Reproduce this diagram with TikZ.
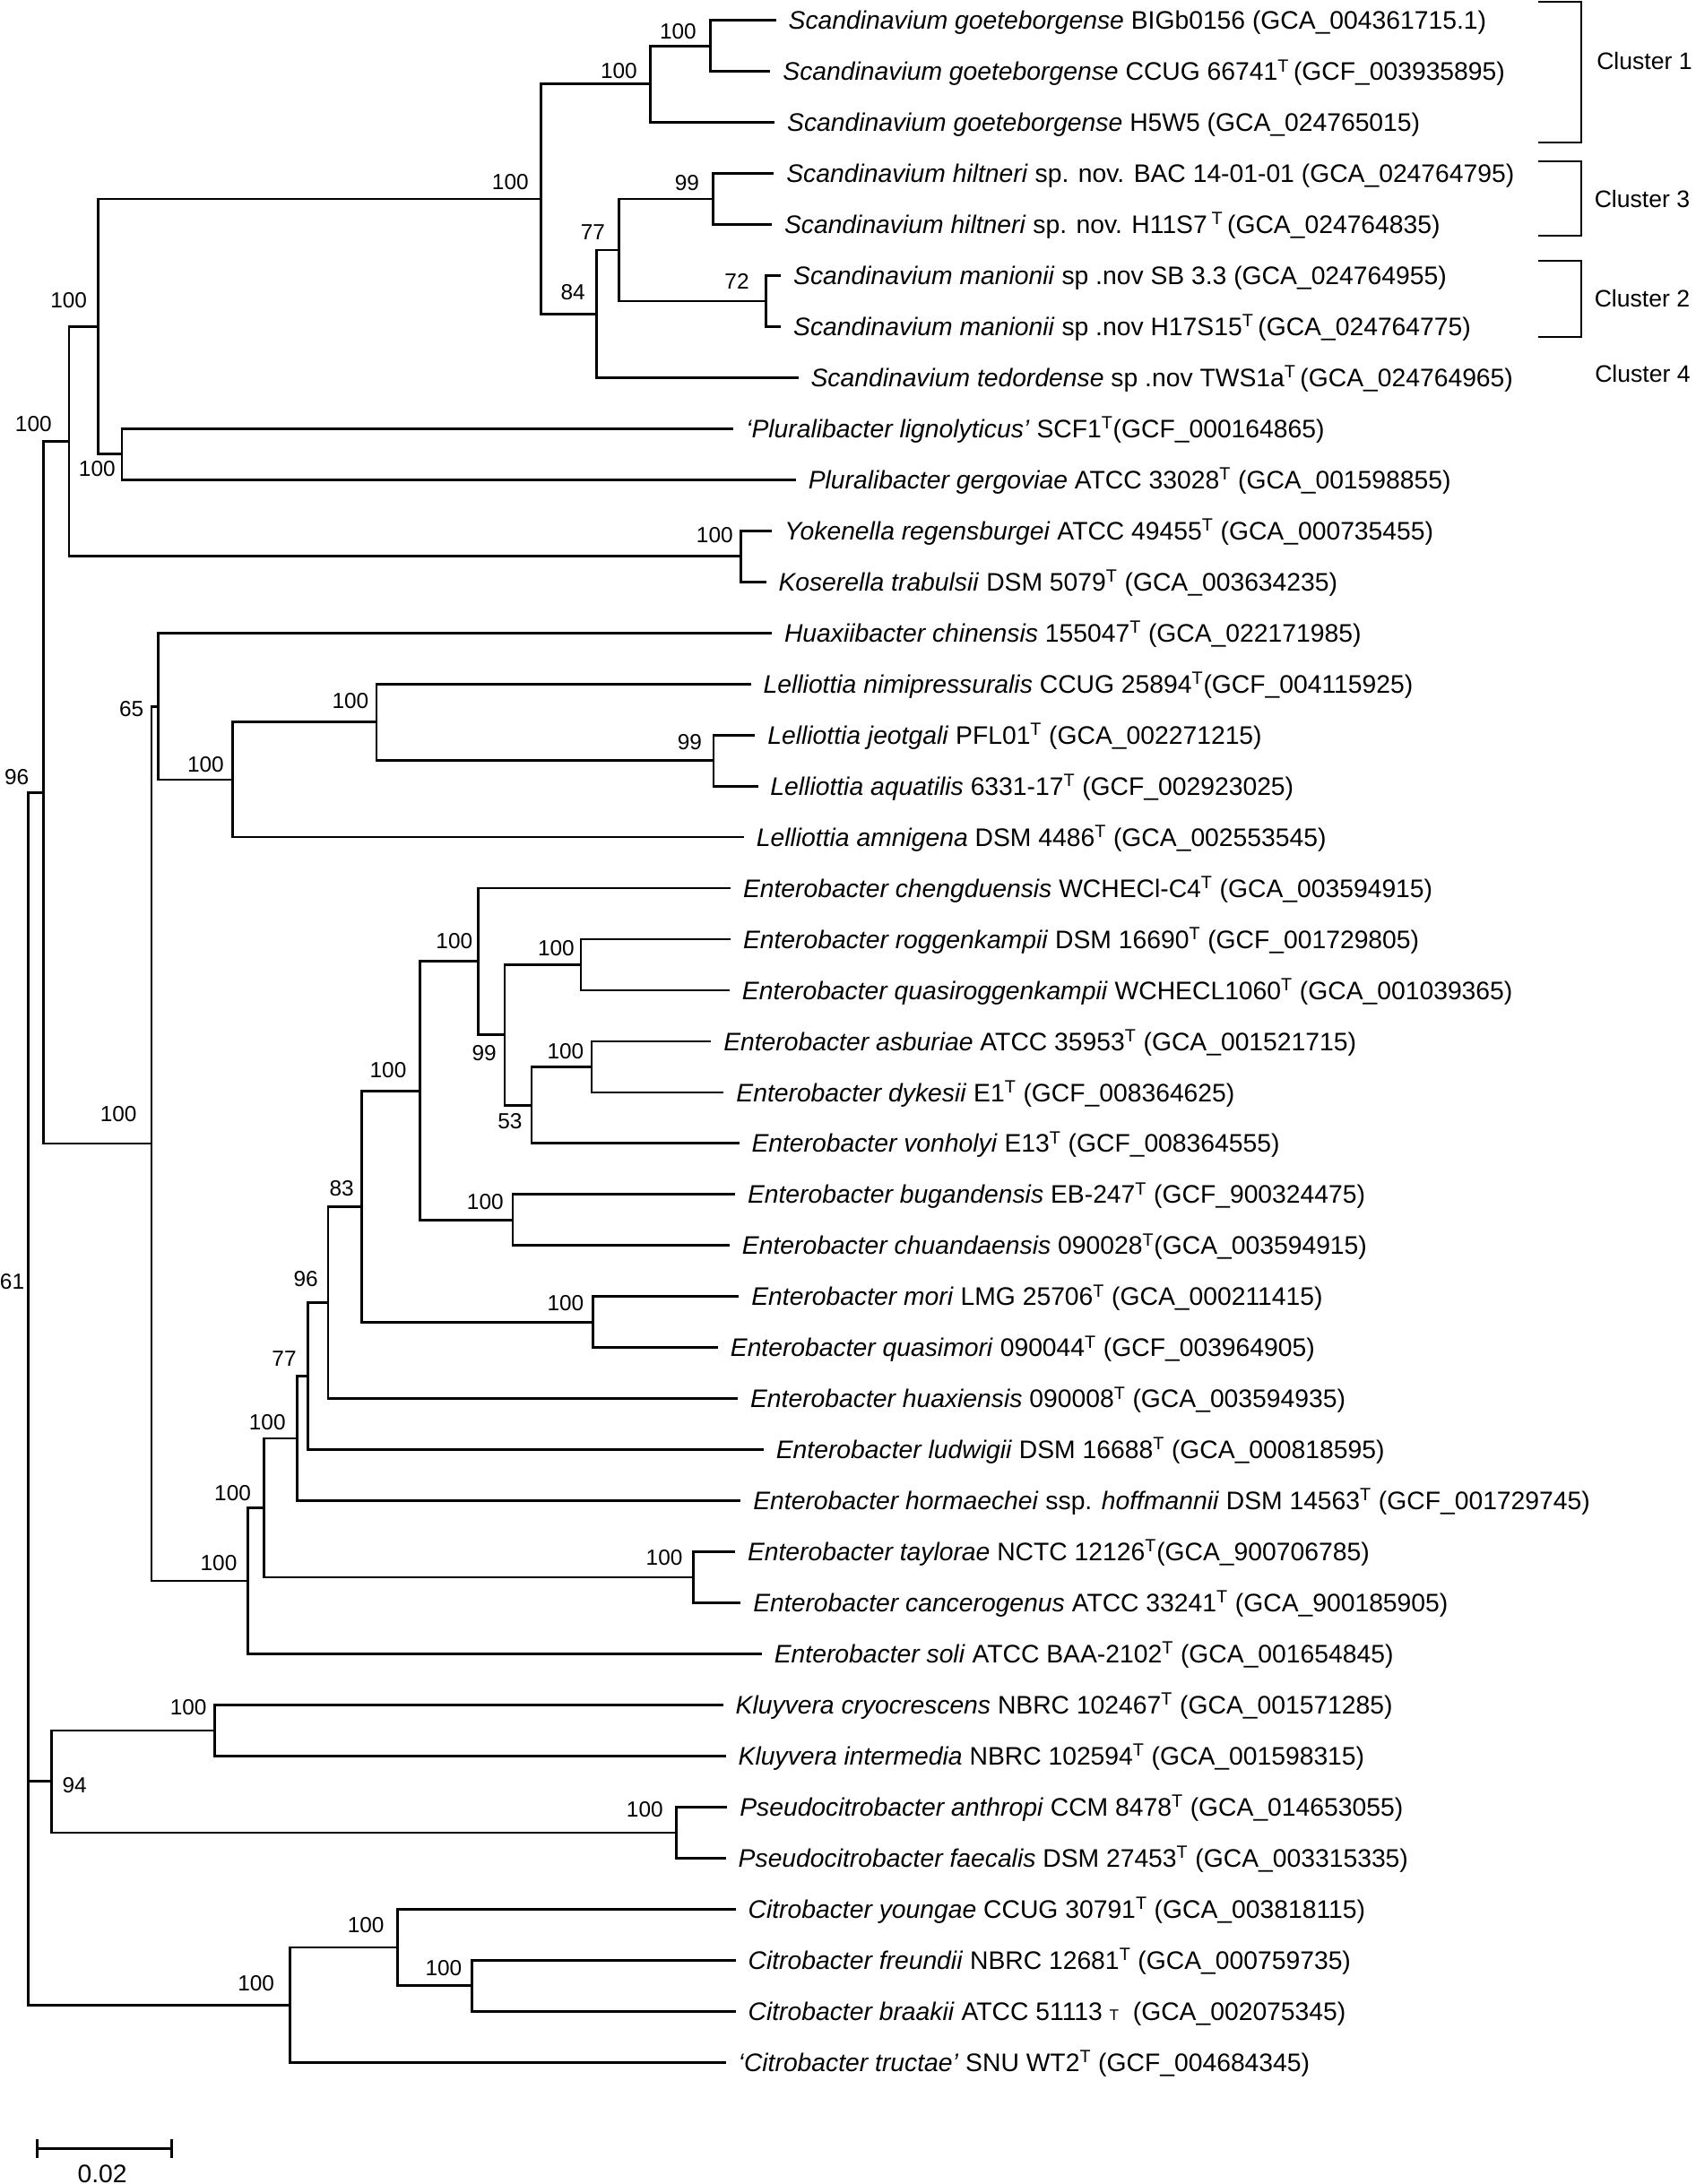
\documentclass[tikz,border=0pt]{standalone}
\usepackage{fontspec}
\setmainfont{Liberation Sans}
\usepackage{tikz}
\newcommand{\tsup}{\textsuperscript{T}}

\begin{document}
\begin{tikzpicture}[x=1pt,y=-1pt,line width=1.8pt,
	leaf/.style={anchor=west,inner sep=0pt,outer xsep=9pt,text height=13pt,text depth=0pt,font=\fontsize{18.2}{21}\selectfont},
	boot/.style={inner sep=0pt,font=\fontsize{15.7}{18}\selectfont},
	clus/.style={line width=1.2pt},
	clab/.style={inner sep=0pt,font=\fontsize{17.1}{20}\selectfont}]
	\useasboundingbox (0,0) rectangle (1217,1568);
	
	\node[leaf] (l1) at (557,14.6) {\textit{Scandinavium goeteborgense} BIGb0156 (GCA\_004361715.1)};
	\node[leaf] (l2) at (553,51.25) {\textit{Scandinavium goeteborgense} CCUG 66741\tsup\,(GCF\_003935895)};
	\node[leaf] (l3) at (556,87.9) {\textit{Scandinavium goeteborgense} H5W5 (GCA\_024765015)};
	\node[leaf] (l4) at (555.5,124.55) {\textit{Scandinavium hiltneri} sp. nov. BAC 14-01-01 (GCA\_024764795)};
	\node[leaf] (l5) at (554,161.2) {\textit{Scandinavium hiltneri} sp. nov. H11S7\,\tsup\,(GCA\_024764835)};
	\node[leaf] (l6) at (560.5,197.85) {\textit{Scandinavium manionii} sp .nov SB 3.3 (GCA\_024764955)};
	\node[leaf] (l7) at (560.5,234.5) {\textit{Scandinavium manionii} sp .nov H17S15\tsup\,(GCA\_024764775)};
	\node[leaf] (l8) at (573,271.15) {\textit{Scandinavium tedordense} sp .nov TWS1a\tsup\,(GCA\_024764965)};
	\node[leaf] (l9) at (526.5,307.8) {\textit{‘Pluralibacter lignolyticus’} SCF1\tsup(GCF\_000164865)};
	\node[leaf] (l10) at (571.2,344.45) {\textit{Pluralibacter gergoviae} ATCC 33028\tsup{} (GCA\_001598855)};
	\node[leaf] (l11) at (554.2,381.1) {\textit{Yokenella regensburgei} ATCC 49455\tsup{} (GCA\_000735455)};
	\node[leaf] (l12) at (549.8,417.75) {\textit{Koserella trabulsii} DSM 5079\tsup{} (GCA\_003634235)};
	\node[leaf] (l13) at (554,454.4) {\textit{Huaxiibacter chinensis} 155047\tsup{} (GCA\_022171985)};
	\node[leaf] (l14) at (539,491.05) {\textit{Lelliottia nimipressuralis} CCUG 25894\tsup(GCF\_004115925)};
	\node[leaf] (l15) at (542,527.7) {\textit{Lelliottia jeotgali} PFL01\tsup{} (GCA\_002271215)};
	\node[leaf] (l16) at (544,564.35) {\textit{Lelliottia aquatilis} 6331-17\tsup{} (GCF\_002923025)};
	\node[leaf] (l17) at (534,601) {\textit{Lelliottia amnigena} DSM 4486\tsup{} (GCA\_002553545)};
	\node[leaf] (l18) at (524.4,637.65) {\textit{Enterobacter chengduensis} WCHECl-C4\tsup{} (GCA\_003594915)};
	\node[leaf] (l19) at (524.4,674.3) {\textit{Enterobacter roggenkampii} DSM 16690\tsup{} (GCF\_001729805)};
	\node[leaf] (l20) at (523.7,710.95) {\textit{Enterobacter quasiroggenkampii} WCHECL1060\tsup{} (GCA\_001039365)};
	\node[leaf] (l21) at (510.4,747.6) {\textit{Enterobacter asburiae} ATCC 35953\tsup{} (GCA\_001521715)};
	\node[leaf] (l22) at (519.5,784.25) {\textit{Enterobacter dykesii} E1\tsup{} (GCF\_008364625)};
	\node[leaf] (l23) at (530.5,820.9) {\textit{Enterobacter vonholyi} E13\tsup{} (GCF\_008364555)};
	\node[leaf] (l24) at (527.6,857.55) {\textit{Enterobacter bugandensis} EB-247\tsup{} (GCF\_900324475)};
	\node[leaf] (l25) at (523.7,894.2) {\textit{Enterobacter chuandaensis} 090028\tsup(GCA\_003594915)};
	\node[leaf] (l26) at (530.4,930.85) {\textit{Enterobacter mori} LMG 25706\tsup{} (GCA\_000211415)};
	\node[leaf] (l27) at (515.3,967.5) {\textit{Enterobacter quasimori} 090044\tsup{} (GCF\_003964905)};
	\node[leaf] (l28) at (529.6,1004.15) {\textit{Enterobacter huaxiensis} 090008\tsup{} (GCA\_003594935)};
	\node[leaf] (l29) at (548.1,1040.8) {\textit{Enterobacter ludwigii} DSM 16688\tsup{} (GCA\_000818595)};
	\node[leaf] (l30) at (531.7,1077.45) {\textit{Enterobacter hormaechei} ssp. \textit{hoffmannii} DSM 14563\tsup{} (GCF\_001729745)};
	\node[leaf] (l31) at (527.6,1114.1) {\textit{Enterobacter taylorae} NCTC 12126\tsup(GCA\_900706785)};
	\node[leaf] (l32) at (531.7,1150.75) {\textit{Enterobacter cancerogenus} ATCC 33241\tsup{} (GCA\_900185905)};
	\node[leaf] (l33) at (546.8,1187.4) {\textit{Enterobacter soli} ATCC BAA-2102\tsup{} (GCA\_001654845)};
	\node[leaf] (l34) at (519,1224.05) {\textit{Kluyvera cryocrescens} NBRC 102467\tsup{} (GCA\_001571285)};
	\node[leaf] (l35) at (521,1260.7) {\textit{Kluyvera intermedia} NBRC 102594\tsup{} (GCA\_001598315)};
	\node[leaf] (l36) at (522,1297.35) {\textit{Pseudocitrobacter anthropi} CCM 8478\tsup{} (GCA\_014653055)};
	\node[leaf] (l37) at (521,1334) {\textit{Pseudocitrobacter faecalis} DSM 27453\tsup{} (GCA\_003315335)};
	\node[leaf] (l38) at (528,1370.65) {\textit{Citrobacter youngae} CCUG 30791\tsup{} (GCA\_003818115)};
	\node[leaf] (l39) at (528,1407.3) {\textit{Citrobacter freundii} NBRC 12681\tsup{} (GCA\_000759735)};
	\node[leaf] (l40) at (528,1443.95) {\textit{Citrobacter braakii} ATCC 51113 {\fontsize{11}{11}\selectfont T}\ \ (GCA\_002075345)};
	\node[leaf] (l41) at (521,1480.6) {\textit{‘Citrobacter tructae’} SNU WT2\tsup{} (GCF\_004684345)};
	
	\coordinate (s1) at (509.8,32.9);
	\coordinate (s2) at (466.9,60.4);
	\coordinate (s3) at (511.8,142.9);
	\coordinate (s4) at (549.9,216.2);
	\coordinate (s5) at (444.2,179.5);
	\coordinate (s6) at (428.1,225.3);
	\coordinate (s7) at (388.1,142.9);
	\coordinate (p1) at (87.5,326.1);
	\coordinate (a1) at (70.3,234.5);
	\coordinate (y1) at (531.8,399.4);
	\coordinate (a2) at (49.5,317);
	\coordinate (j1) at (512.2,546);
	\coordinate (j2) at (270.2,518.5);
	\coordinate (j3) at (166.8,559.8);
	\coordinate (j4) at (113.7,507.1);
	\coordinate (e1) at (416.9,692.6);
	\coordinate (e2) at (424.6,765.9);
	\coordinate (e3) at (381.5,793.4);
	\coordinate (e4) at (362.3,743);
	\coordinate (e5) at (343.3,690.3);
	\coordinate (e6) at (368,875.9);
	\coordinate (e7) at (301.2,783.1);
	\coordinate (e8) at (425.8,949.2);
	\coordinate (e9) at (259.4,866.1);
	\coordinate (e10) at (235.5,935.1);
	\coordinate (e11) at (221.2,988);
	\coordinate (e12) at (213.3,1032.7);
	\coordinate (e13) at (497.7,1132.4);
	\coordinate (e14) at (189.5,1082.6);
	\coordinate (e15) at (178,1135);
	\coordinate (e16) at (108.8,821);
	\coordinate (r96) at (31.1,569);
	\coordinate (k1) at (154.3,1242.4);
	\coordinate (k2) at (485.7,1315.7);
	\coordinate (k3) at (36.8,1279);
	\coordinate (c1) at (339,1425.6);
	\coordinate (c2) at (285.5,1398.1);
	\coordinate (c3) at (208.1,1439.4);
	\coordinate (r61) at (20.3,924);
	\coordinate (root) at (20.3,1181.7);
	
	\draw (s1) |- (l1) (s1) |- (l2);
	\draw (s2) |- (s1) (s2) |- (l3);
	\draw (s3) |- (l4) (s3) |- (l5);
	\draw (s4) |- (l6) (s4) |- (l7);
	\draw (s5) |- (s3) (s5) |- (s4);
	\draw (s6) |- (s5) (s6) |- (l8);
	\draw (s7) |- (s2) (s7) |- (s6);
	\draw (p1) |- (l9) (p1) |- (l10);
	\draw (a1) |- (s7) (a1) |- (p1);
	\draw (y1) |- (l11) (y1) |- (l12);
	\draw (a2) |- (a1) (a2) |- (y1);
	\draw (j1) |- (l15) (j1) |- (l16);
	\draw (j2) |- (l14) (j2) |- (j1);
	\draw (j3) |- (j2) (j3) |- (l17);
	\draw (j4) |- (l13) (j4) |- (j3);
	\draw (e1) |- (l19) (e1) |- (l20);
	\draw (e2) |- (l21) (e2) |- (l22);
	\draw (e3) |- (e2) (e3) |- (l23);
	\draw (e4) |- (e1) (e4) |- (e3);
	\draw (e5) |- (l18) (e5) |- (e4);
	\draw (e6) |- (l24) (e6) |- (l25);
	\draw (e7) |- (e5) (e7) |- (e6);
	\draw (e8) |- (l26) (e8) |- (l27);
	\draw (e9) |- (e7) (e9) |- (e8);
	\draw (e10) |- (e9) (e10) |- (l28);
	\draw (e11) |- (e10) (e11) |- (l29);
	\draw (e12) |- (e11) (e12) |- (l30);
	\draw (e13) |- (l31) (e13) |- (l32);
	\draw (e14) |- (e12) (e14) |- (e13);
	\draw (e15) |- (e14) (e15) |- (l33);
	\draw (e16) |- (j4) (e16) |- (e15);
	\draw (r96) |- (a2) (r96) |- (e16);
	\draw (k1) |- (l34) (k1) |- (l35);
	\draw (k2) |- (l36) (k2) |- (l37);
	\draw (k3) |- (k1) (k3) |- (k2);
	\draw (c1) |- (l39) (c1) |- (l40);
	\draw (c2) |- (l38) (c2) |- (c1);
	\draw (c3) |- (c2) (c3) |- (l41);
	\draw (r61) |- (r96) (r61) |- (k3);
	\draw (root) |- (r61) (root) |- (c3);
	
	\node[boot] (bs1) at (486.7,22.5) {100};
	\node[boot] (bs2) at (444.2,51) {100};
	\node[boot] (bs7) at (366.3,130.8) {100};
	\node[boot] (bs3) at (493.1,131.2) {99};
	\node[boot] (bs4) at (528.9,202.2) {72};
	\node[boot] (bs5) at (425.6,166.8) {77};
	\node[boot] (bs6) at (411.2,209.5) {84};
	\node[boot] (ba1) at (49.3,215.5) {100};
	\node[boot] (bp1) at (69.7,336.6) {100};
	\node[boot] (ba2) at (24,304.5) {100};
	\node[boot] (by1) at (513,384) {100};
	\node[boot] (br96) at (12,558) {96};
	\node[boot] (br61) at (8.7,920) {61};
	\node[boot] (be16) at (85,800) {100};
	\node[boot] (bj4) at (94.4,509.2) {65};
	\node[boot] (bj3) at (147.6,548.9) {100};
	\node[boot] (bj2) at (251.5,503.2) {100};
	\node[boot] (bj1) at (495,532.8) {99};
	\node[boot] (be5) at (326.1,675.8) {100};
	\node[boot] (be4) at (347.5,756) {99};
	\node[boot] (be1) at (399.2,681) {100};
	\node[boot] (be3) at (366,805) {53};
	\node[boot] (be2) at (405.9,754.8) {100};
	\node[boot] (be7) at (278.6,768.1) {100};
	\node[boot] (be6) at (348.3,863) {100};
	\node[boot] (be9) at (245.3,853) {83};
	\node[boot] (be8) at (405.9,935.7) {100};
	\node[boot] (be10) at (219.5,918.4) {96};
	\node[boot] (be11) at (204,975.6) {77};
	\node[boot] (be12) at (191.9,1021) {100};
	\node[boot] (be14) at (167,1072) {100};
	\node[boot] (be15) at (157,1122) {100};
	\node[boot] (be13) at (476.8,1118.5) {100};
	\node[boot] (bk3) at (53.5,1281.7) {94};
	\node[boot] (bk1) at (135.2,1225.9) {100};
	\node[boot] (bk2) at (462.8,1298.8) {100};
	\node[boot] (bc3) at (183.8,1424.2) {100};
	\node[boot] (bc2) at (262.6,1382.4) {100};
	\node[boot] (bc1) at (318.4,1412.9) {100};
	
	\draw[clus] (1104.2,1.1) -| (1134.8,102.5) -- (1104.2,102.5);
	\draw[clus] (1104.2,115.8) -| (1134.8,169.4) -- (1104.2,169.4);
	\draw[clus] (1104.2,187.2) -| (1134.8,241.8) -- (1104.2,241.8);
	\node[clab] (cl1) at (1180.3,44) {Cluster 1};
	\node[clab] (cl3) at (1178.7,142.6) {Cluster 3};
	\node[clab] (cl2) at (1178.7,214.4) {Cluster 2};
	\node[clab] (cl4) at (1179,268) {Cluster 4};
	
	\coordinate (sbl) at (26.8,1542.6);
	\coordinate (sbr) at (123.3,1542.6);
	\draw (sbl) -- (sbr);
	\draw ([yshift=7pt]sbl) -- ([yshift=-7pt]sbl) ([yshift=7pt]sbr) -- ([yshift=-7pt]sbr);
	\node[inner sep=0pt,font=\fontsize{18.2}{21}\selectfont] (sblab) at (73.4,1561) {0.02};
\end{tikzpicture}
\end{document}
